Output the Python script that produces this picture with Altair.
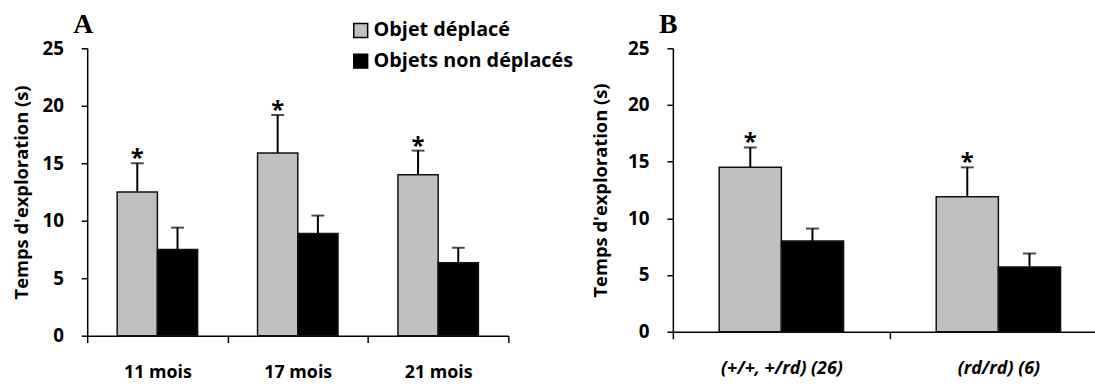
import altair as alt
import pandas as pd

# Series
series = ["Objet déplacé", "Objets non déplacés"]
series_colors = ["#c0c0c0", "#000000"]

# Panel A: age groups
cats_a = ["11 mois", "17 mois", "21 mois"]
moved_a = [12.5, 15.9, 14.0]
moved_err_a = [2.5, 3.3, 2.1]
still_a = [7.5, 8.9, 6.35]
still_err_a = [1.9, 1.55, 1.3]

# Panel B: genotypes
cats_b = ["(+/+, +/rd) (26)", "(rd/rd) (6)"]
moved_b = [14.5, 11.9]
moved_err_b = [1.75, 2.6]
still_b = [8.0, 5.7]
still_err_b = [1.1, 1.2]

FONT = "Open Sans"


def make_frame(cats, moved, moved_err, still, still_err):
    rows = []
    for c, v, e in zip(cats, moved, moved_err):
        rows.append({"cat": c, "serie": series[0], "val": v, "top": v + e, "star": "*"})
    for c, v, e in zip(cats, still, still_err):
        rows.append({"cat": c, "serie": series[1], "val": v, "top": v + e, "star": ""})
    return pd.DataFrame(rows)


def panel(df, cats, width, height, letter, show_legend, italic, title_pad, label_pad, xlabel_size):
    x = alt.X(
        "cat:N",
        sort=cats,
        scale=alt.Scale(paddingInner=0, paddingOuter=0),
        axis=alt.Axis(
            title=None,
            labelAngle=0,
            tickBand="extent",
            tickSize=7,
            labelPadding=21,
            labelFontSize=xlabel_size,
            labelLimit=0,
            labelFontStyle="italic" if italic else "normal",
        ),
    )
    xo = alt.XOffset("serie:N", sort=series, scale=alt.Scale(paddingOuter=0.745, paddingInner=0))
    y_scale = alt.Scale(domain=[0, 25], nice=False)
    y = alt.Y(
        "val:Q",
        scale=y_scale,
        axis=alt.Axis(
            values=[0, 5, 10, 15, 20, 25],
            title="Temps d'exploration (s)",
            titlePadding=title_pad,
            labelPadding=label_pad,
            tickSize=6,
            grid=False,
        ),
    )
    if show_legend:
        legend = alt.Legend(
            title=None,
            orient="none",
            legendX=266,
            legendY=-28,
            symbolType="square",
            symbolSize=196,
            symbolStrokeColor="black",
            symbolStrokeWidth=1.5,
            labelFontSize=20,
            labelFont=FONT,
            labelFontWeight="bold",
            labelColor="black",
            labelLimit=0,
            labelOffset=3,
            rowPadding=11,
            padding=0,
        )
    else:
        legend = None
    fill = alt.Fill("serie:N", sort=series,
                    scale=alt.Scale(domain=series, range=series_colors), legend=legend)

    base = alt.Chart(df)
    bars = base.mark_bar(stroke="#111111", strokeWidth=1.5).encode(x=x, xOffset=xo, y=y, fill=fill)
    whisker = base.mark_rule(color="black", strokeWidth=2).encode(
        x=x, xOffset=xo, y=alt.Y("val:Q"), y2="top:Q")
    cap = base.mark_tick(color="black", size=13, thickness=2).encode(
        x=x, xOffset=xo, y=alt.Y("top:Q"))
    stars = base.mark_text(fontSize=24, fontWeight="bold", font=FONT, baseline="alphabetic", dy=3).encode(
        x=x, xOffset=xo, y=alt.Y("top:Q"), text="star:N")
    tag = alt.Chart(pd.DataFrame({"t": [letter]})).mark_text(
        font="Liberation Serif", fontWeight="bold", fontSize=28, align="left", baseline="alphabetic"
    ).encode(x=alt.value(-14), y=alt.value(-15), text="t:N")

    return alt.layer(bars, whisker, cap, stars, tag).properties(width=width, height=height)


df_a = make_frame(cats_a, moved_a, moved_err_a, still_a, still_err_a)
df_b = make_frame(cats_b, moved_b, moved_err_b, still_b, still_err_b)

left = panel(df_a, cats_a, 425, 290, "A", True, False, 11, 18, 18)
right = panel(df_b, cats_b, 438, 286, "B", False, True, 17, 18, 18)

chart = (
    alt.hconcat(left, right, spacing=18)
    .resolve_scale(fill="independent", x="independent", xOffset="independent")
    .resolve_legend(fill="independent")
    .properties(padding={"left": 12, "top": 10, "right": -13, "bottom": 0})
    .configure(background="white")
    .configure_view(stroke=None)
    .configure_axis(
        domainColor="black",
        domainWidth=1.5,
        tickColor="black",
        tickWidth=1.5,
        labelColor="black",
        labelFont=FONT,
        labelFontWeight="bold",
        labelFontSize=19,
        titleFont=FONT,
        titleFontWeight="bold",
        titleFontSize=18.5,
        titleColor="black",
    )
)

chart.save("out.html", embed_options={"renderer": "svg", "actions": False})
